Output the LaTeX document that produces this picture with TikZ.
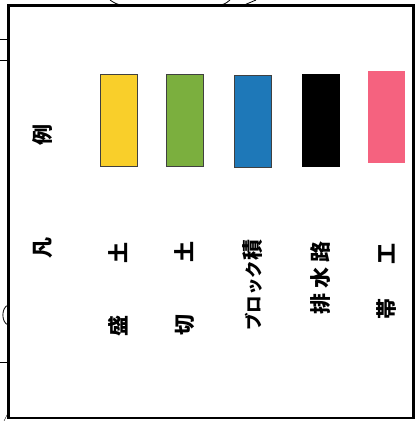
\documentclass[tikz,border=0pt]{standalone}
\usepackage{fontspec}
\usepackage{xcolor}
\usetikzlibrary{positioning}
\newfontfamily\jp{Noto Sans CJK JP}
\definecolor{moriYellow}{RGB}{249,207,42}
\definecolor{kiriGreen}{RGB}{123,175,62}
\definecolor{blockBlue}{RGB}{30,120,184}
\definecolor{obiPink}{RGB}{245,98,127}

\begin{document}
\begin{tikzpicture}[x=1pt,y=-1pt]
		\tikzset{swatch/.style = {draw=black!75, line width=0.8pt, minimum width=37pt, minimum height=92pt, inner sep=0pt}}
		\tikzset{legendText/.style = {rotate=90, inner sep=0pt, font=\jp\bfseries\fontsize{21}{21}\selectfont}}

		\useasboundingbox (0,0) rectangle (417,421);

		% frame
		\draw[line width=2.4pt] (8.5,5.5) rectangle (413.5,418);

		% bits of the drawing outside the frame
		\draw[thick] (110,0) .. controls (116,4) .. (124,5.5);
		\draw[thick] (218,5.5) .. controls (225,4) .. (230,0);
		\draw[thick] (243,5.5) .. controls (250,3) .. (256,0);
		\draw (0,39) -- (8.5,39);
		\draw (0,60) -- (8.5,60);
		\draw (0,362) -- (8.5,362);
		\draw[thick] (8.5,305) .. controls (1,307) and (1,323) .. (8.5,325);
		\draw (4,421) -- (8.5,412);

		% swatches
		\node[swatch, fill=moriYellow] (S_1) at (118.5,120.5) {};
		\node[swatch, fill=kiriGreen] (S_2) at (185,120) {};
		\node[swatch, fill=blockBlue] (S_3) at (252.5,121) {};
		\node[swatch, fill=black, draw=black] (S_4) at (321,120) {};
		\node[swatch, fill=obiPink, draw=none] (S_5) at (386.5,117) {};

		% labels
		\node[legendText] (T_0) at (43,191) {凡\hspace{92pt}例};
		\node[legendText, below=75pt of S_1, anchor=east] (T_1) {盛\hspace{52pt}土};
		\node[legendText, below=75pt of S_2, anchor=east] (T_2) {切\hspace{52pt}土};
		\node[legendText, below=72pt of S_3, anchor=east] (T_3) {{\fontsize{17.5}{17.5}\selectfont ブロック}積};
		\node[legendText, below=75pt of S_4, anchor=east] (T_4) {排\hspace{5pt}水\hspace{5pt}路};
		\node[legendText, below=80pt of S_5, anchor=east] (T_5) {帯\hspace{34pt}工};

	\end{tikzpicture}
\end{document}
